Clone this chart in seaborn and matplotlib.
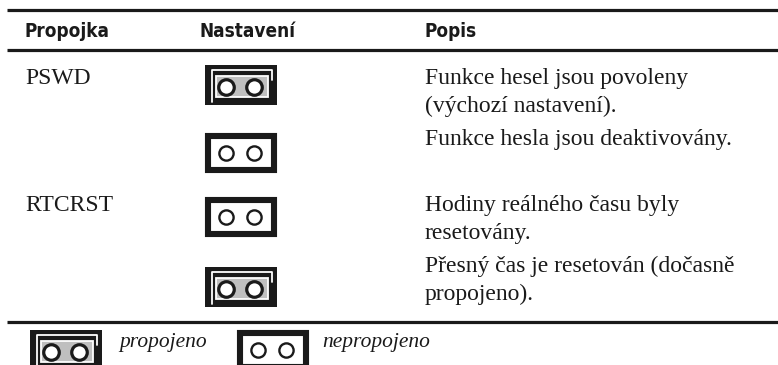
import numpy as np
import pandas as pd
import matplotlib
matplotlib.use("Agg")
import matplotlib.pyplot as plt
import matplotlib.patches as patches
from matplotlib import font_manager
import seaborn as sns

# --- table content ---
headers = ["Propojka", "Nastavení", "Popis"]
jumper_names = ["PSWD", "", "RTCRST", ""]
jumpered = [True, False, False, True]
descriptions = [
    ["Funkce hesel jsou povoleny", "(výchozí nastavení)."],
    ["Funkce hesla jsou deaktivovány."],
    ["Hodiny reálného času byly", "resetovány."],
    ["Přesný čas je resetován (dočasně", "propojeno)."],
]
legend_labels = ["propojeno", "nepropojeno"]
legend_states = [True, False]

# --- layout (pixel coordinates, y down) ---
W, H = 778, 365
COL_X = [25, 200, 425]
JUMP_X = 205
JUMP_W, JUMP_H = 72, 40
ROW_TOP = [65, 133, 197, 267]
ROW_BASE = [84, 145, 211, 272]
LINE_STEP = 28
RULES = [10, 50, 322]
LEG_JUMP_X = [30, 237]
LEG_TEXT_X = [119, 322]
LEG_TOP = 330
INK = "#1a1a1a"

sns.set_theme(style="white")
plt.rcParams["font.family"] = ["Liberation Serif", "DejaVu Serif"]

# header face: heavy condensed sans if one is installed
head_font = None
for f in font_manager.fontManager.ttflist:
    if f.name in ("Liberation Sans Narrow", "DejaVu Sans") and f.weight in (700, "bold") \
            and (f.name == "Liberation Sans Narrow" or "ondensed" in str(f.stretch) or "Condensed" in f.fname):
        head_font = font_manager.FontProperties(fname=f.fname, size=13.6)
        break
if head_font is None:
    head_font = font_manager.FontProperties(family="Liberation Sans", weight="bold", size=13.5)

fig = plt.figure(figsize=(W / 100, H / 100), dpi=100)
ax = fig.add_axes([0, 0, 1, 1])


def draw_housing(x0, y0, closed):
    """Black jumper housing; pins are added later with seaborn."""
    if closed:
        ax.add_patch(patches.Rectangle((x0, y0), JUMP_W, JUMP_H, fc=INK, ec="none", zorder=2))
        ax.plot([x0 + 7, x0 + 7, x0 + 67, x0 + 67],
                [y0 + 37, y0 + 5, y0 + 5, y0 + 15], color="white", lw=1.3, zorder=3)
        ax.add_patch(patches.Rectangle((x0 + 11, y0 + 11), 52, 21, fc="#bfbfbf",
                                       ec="white", lw=1.3, zorder=3))
    else:
        ax.add_patch(patches.Rectangle((x0 + 3, y0 + 3), JUMP_W - 6, JUMP_H - 6,
                                       fc="white", ec=INK, lw=4.4, zorder=2))


pins = []
for top, closed in zip(ROW_TOP, jumpered):
    draw_housing(JUMP_X, top, closed)
    pins.append((JUMP_X, top, closed))
for x0, closed in zip(LEG_JUMP_X, legend_states):
    draw_housing(x0, LEG_TOP, closed)
    pins.append((x0, LEG_TOP, closed))

pin_df = pd.DataFrame(
    [(x0 + dx, y0 + (22 if c else 20), c) for x0, y0, c in pins for dx in (21, 49)],
    columns=["x", "y", "closed"],
)
sns.scatterplot(data=pin_df[pin_df.closed], x="x", y="y", ax=ax, s=125, color="white",
                edgecolor=INK, linewidth=2.3, zorder=4, legend=False)
sns.scatterplot(data=pin_df[~pin_df.closed], x="x", y="y", ax=ax, s=105, color="white",
                edgecolor=INK, linewidth=1.7, zorder=4, legend=False)
ax.set_xlim(0, W)
ax.set_ylim(H, 0)
ax.set_xlabel("")
ax.set_ylabel("")
ax.axis("off")

# rules
for y in RULES:
    ax.plot([7, W], [y, y], color=INK, lw=2.3, solid_capstyle="butt", zorder=1)

# header
for x, label in zip(COL_X, headers):
    ax.text(x, 37, label, fontproperties=head_font, color=INK, va="baseline", ha="left")

# body
for name, base, lines in zip(jumper_names, ROW_BASE, descriptions):
    if name:
        ax.text(COL_X[0], base, name, fontsize=17, color=INK, va="baseline")
    for i, line in enumerate(lines):
        ax.text(COL_X[2], base + i * LINE_STEP, line, fontsize=17, color=INK, va="baseline")

# legend
for x, label in zip(LEG_TEXT_X, legend_labels):
    ax.text(x, 347, label, fontsize=15.5, fontstyle="italic", color=INK, va="baseline")

fig.savefig("out.png", dpi=100)
